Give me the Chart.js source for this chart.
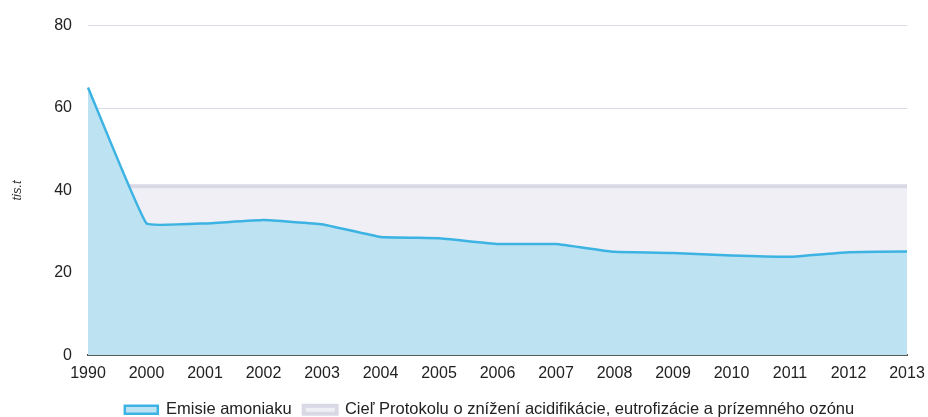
<!DOCTYPE html>
<html>
<head>
<meta charset="utf-8">
<script src="https://cdn.jsdelivr.net/npm/chart.js@4"></script>
<style>
  html, body { margin: 0; padding: 0; background: #fff; }
  #wrap { width: 928px; height: 417px; }
</style>
</head>
<body>
<div id="wrap"><canvas id="chart" width="928" height="417"></canvas></div>
<script>
// data (thousand tonnes)
const years = ['1990', '2000', '2001', '2002', '2003', '2004', '2005', '2006', '2007', '2008', '2009', '2010', '2011', '2012', '2013'];
const emissions = [65, 32, 32, 32.8, 31.8, 28.7, 28.4, 27, 27, 25.1, 24.8, 24.2, 23.9, 25, 25.2];
const target = [41, 41, 41, 41, 41, 41, 41, 41, 41, 41, 41, 41, 41, 41, 41];
const yTicks = [0, 20, 40, 60, 80];

const font = "'Liberation Sans', Arial, sans-serif";

// push the legend a bit right and down, like in the source picture
const legendShift = {
  id: 'legendShift',
  afterLayout(chart) {
    chart.legend.left += 62;
    chart.legend.top += 5;
    chart.legend.bottom += 5;
  }
};

new Chart(document.getElementById('chart'), {
  type: 'line',
  data: {
    labels: years,
    datasets: [{
      label: 'Emisie amoniaku',
      data: emissions,
      borderColor: '#3cb3e2',
      backgroundColor: '#bde2f2',
      borderWidth: 2.5,
      fill: 'origin',
      pointRadius: 0,
      tension: 0.08,
      order: 1
    }, {
      label: 'Cieľ Protokolu o znížení acidifikácie, eutrofizácie a prízemného ozónu',
      data: target,
      borderColor: '#d9d9e6',
      backgroundColor: '#efeff5',
      borderWidth: 4,
      fill: 'origin',
      pointRadius: 0,
      order: 2
    }]
  },
  options: {
    responsive: false,
    animation: false,
    layout: { padding: { top: 13, right: 21, left: 10, bottom: -6 } },
    plugins: {
      tooltip: { enabled: false },
      legend: {
        position: 'bottom',
        labels: {
          color: '#222',
          font: { family: font, size: 16.5 },
          boxWidth: 33,
          boxHeight: 8,
          padding: 12
        }
      }
    },
    scales: {
      x: {
        offset: false,
        grid: { display: false },
        border: { color: '#555', width: 2 },
        ticks: {
          color: '#222',
          font: { family: font, size: 16 },
          maxRotation: 0,
          autoSkip: false,
          padding: 1
        },
        afterFit(scale) { scale.paddingLeft = 0; scale.paddingRight = 0; }
      },
      y: {
        min: 0,
        max: 80,
        z: 1,
        afterBuildTicks(scale) { scale.ticks = yTicks.map(v => ({ value: v })); },
        grid: { color: 'rgba(150,150,195,0.35)', drawTicks: false },
        border: { display: false },
        ticks: {
          color: '#222',
          font: { family: font, size: 16 },
          padding: 16
        },
        title: {
          display: true,
          text: 'tis.t',
          color: '#333',
          font: { family: font, size: 13, style: 'italic' },
          padding: { top: 0, bottom: 12 }
        },
        afterFit(scale) { scale.width = 78; }
      }
    }
  },
  plugins: [legendShift]
});
</script>
</body>
</html>
